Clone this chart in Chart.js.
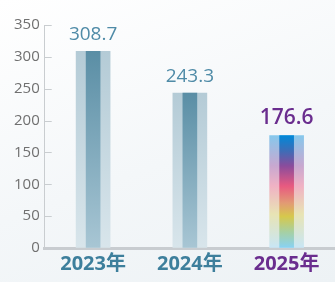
<!DOCTYPE html>
<html>
<head>
<meta charset="utf-8">
<script src="https://cdn.jsdelivr.net/npm/chart.js@4"></script>
<style>
    html, body { margin: 0; padding: 0; }
    body {
        width: 335px; height: 282px; overflow: hidden;
        background: linear-gradient(160deg, #ffffff 0%, #f4f7f9 55%, #edf2f5 100%);
    }
    #wrap { position: relative; width: 335px; height: 282px; }
</style>
</head>
<body>
<div id="wrap"><canvas id="chart"></canvas></div>
<script>
const years = ['2023年', '2024年', '2025年'];
const values = [308.7, 243.3, 176.6];
const yTicks = [0, 50, 100, 150, 200, 250, 300, 350];

const teal = '#3d7f9c';
const tealLight = '#4f8ba7';
const purple = '#6a2d8e';

function innerFill(context) {
    const { chart, dataIndex } = context;
    const area = chart.chartArea;
    if (!area) return '#5a8fa6';
    const y = chart.scales.y;
    const top = y.getPixelForValue(values[dataIndex]);
    const g = chart.ctx.createLinearGradient(0, top, 0, area.bottom);
    if (dataIndex === 2) {
        g.addColorStop(0, '#0088d8');
        g.addColorStop(0.14, '#3f6cb6');
        g.addColorStop(0.27, '#8a4c9c');
        g.addColorStop(0.45, '#e85a80');
        g.addColorStop(0.6, '#e29a74');
        g.addColorStop(0.72, '#d6c84c');
        g.addColorStop(0.86, '#a6d0a4');
        g.addColorStop(1, '#88d2f4');
    } else {
        g.addColorStop(0, '#5a8ea5');
        g.addColorStop(1, '#a8c6d4');
    }
    return g;
}

function outerFill(context) {
    const { chart, dataIndex } = context;
    const area = chart.chartArea;
    if (!area) return '#b4ccd6';
    const y = chart.scales.y;
    const top = y.getPixelForValue(values[dataIndex]);
    const g = chart.ctx.createLinearGradient(0, top, 0, area.bottom);
    if (dataIndex === 2) {
        g.addColorStop(0, '#86c8ec');
        g.addColorStop(0.27, '#c8a8d0');
        g.addColorStop(0.45, '#f0b2c4');
        g.addColorStop(0.7, '#e8e4b4');
        g.addColorStop(1, '#c8e6f6');
    } else {
        g.addColorStop(0, '#b4cbd6');
        g.addColorStop(1, '#d8e5eb');
    }
    return g;
}

// value labels above the bars
const valueLabels = {
    id: 'valueLabels',
    afterDatasetsDraw(chart) {
        const ctx = chart.ctx;
        const meta = chart.getDatasetMeta(0);
        ctx.save();
        ctx.textAlign = 'center';
        ctx.textBaseline = 'bottom';
        meta.data.forEach((bar, i) => {
            ctx.font = (i === 2 ? '600 21px ' : '400 19px ') + '"Open Sans", "Noto Sans", sans-serif';
            ctx.fillStyle = i === 2 ? purple : tealLight;
            ctx.fillText(values[i].toFixed(1), bar.x, bar.y - 7);
        });
        ctx.restore();
    }
};

// short tick marks pointing into the plot
const innerTicks = {
    id: 'innerTicks',
    afterDraw(chart) {
        const ctx = chart.ctx;
        const y = chart.scales.y;
        const left = chart.chartArea.left;
        ctx.save();
        ctx.strokeStyle = '#c9cdd0';
        ctx.lineWidth = 1;
        yTicks.forEach(v => {
            if (v === 0) return;
            const py = Math.round(y.getPixelForValue(v)) + 0.5;
            ctx.beginPath();
            ctx.moveTo(left, py);
            ctx.lineTo(left + 7, py);
            ctx.stroke();
        });
        ctx.restore();
    }
};

new Chart(document.getElementById('chart'), {
    type: 'bar',
    data: {
        labels: years,
        datasets: [{
            data: values,
            backgroundColor: innerFill,
            barThickness: 14,
            order: 0
        }, {
            data: values,
            backgroundColor: outerFill,
            barThickness: 34,
            order: 1
        }]
    },
    options: {
        responsive: true,
        maintainAspectRatio: false,
        animation: false,
        layout: { padding: { top: 25, right: 0, left: 9, bottom: 2 } },
        datasets: { bar: { grouped: false } },
        plugins: {
            legend: { display: false },
            tooltip: { enabled: false }
        },
        scales: {
            x: {
                grid: { display: true, drawOnChartArea: false, drawTicks: false },
                border: { display: true, color: '#c8ccd0', width: 3 },
                ticks: {
                    padding: 4,
                    color: (c) => c.index === 2 ? purple : teal,
                    font: { size: 20, weight: 'bold', family: '"Open Sans", "Noto Sans CJK SC", sans-serif' }
                }
            },
            y: {
                min: 0,
                max: 350,
                afterBuildTicks: (scale) => { scale.ticks = yTicks.map(v => ({ value: v })); },
                grid: { display: true, drawOnChartArea: false, drawTicks: false },
                border: { display: true, color: '#c9cdd0', width: 1 },
                ticks: {
                    padding: 5,
                    color: '#707070',
                    font: { size: 15, family: '"Open Sans", "Noto Sans", sans-serif' }
                }
            }
        }
    },
    plugins: [valueLabels, innerTicks]
});
</script>
</body>
</html>
